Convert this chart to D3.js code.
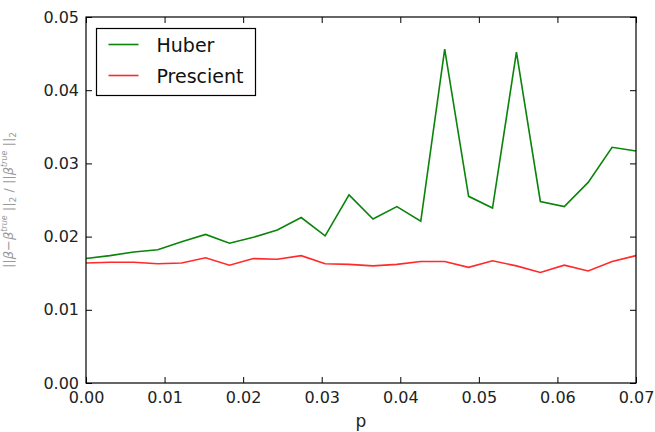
<!DOCTYPE html>
<html>
<head>
<meta charset="utf-8">
<script src="https://cdn.jsdelivr.net/npm/d3@7"></script>
<style>
  html, body { margin: 0; padding: 0; background: #fff; }
  svg { display: block; font-family: "DejaVu Sans", sans-serif; }
</style>
</head>
<body>
<svg id="chart" width="655" height="432"></svg>
<script>
// Contamination fraction p (24 evenly spaced values from 0 to 0.07)
const pValues = [0.0, 0.003043, 0.006087, 0.009130, 0.012174, 0.015217, 0.018261, 0.021304,
                 0.024348, 0.027391, 0.030435, 0.033478, 0.036522, 0.039565, 0.042609, 0.045652,
                 0.048696, 0.051739, 0.054783, 0.057826, 0.060870, 0.063913, 0.066957, 0.07];

// Relative estimation error of each estimator
const huberErr = [0.0170, 0.0174, 0.0179, 0.0182, 0.0193, 0.0203, 0.0191, 0.0199,
                  0.0209, 0.0226, 0.0201, 0.0257, 0.0224, 0.0241, 0.0221, 0.0456,
                  0.0255, 0.0239, 0.0452, 0.0248, 0.0241, 0.0274, 0.0322, 0.0317];
const prescientErr = [0.0164, 0.0165, 0.0165, 0.0163, 0.0164, 0.0171, 0.0161, 0.0170,
                      0.0169, 0.0174, 0.0163, 0.0162, 0.0160, 0.0162, 0.0166, 0.0166,
                      0.0158, 0.0167, 0.0160, 0.0151, 0.0161, 0.0153, 0.0166, 0.0174];

const seriesNames = ["Huber", "Prescient"];
const seriesColors = ["#0a840a", "#ff2a2a"];

const xTicks = [0.00, 0.01, 0.02, 0.03, 0.04, 0.05, 0.06, 0.07];
const yTicks = [0.00, 0.01, 0.02, 0.03, 0.04, 0.05];

const svg = d3.select("#chart");
const margin = { left: 86, top: 17, right: 19, bottom: 49 };
const W = 655, H = 432;
const iw = W - margin.left - margin.right;
const ih = H - margin.top - margin.bottom;

const x = d3.scaleLinear().domain([0, 0.07]).range([margin.left, margin.left + iw]);
const y = d3.scaleLinear().domain([0, 0.05]).range([margin.top + ih, margin.top]);

const tickLen = 6;
const fmt = d3.format(".2f");

// Axes with inward ticks on all four sides
const axBottom = svg.append("g").attr("transform", `translate(0,${margin.top + ih})`)
  .call(d3.axisBottom(x).tickValues(xTicks).tickFormat(fmt).tickSizeInner(-tickLen).tickSizeOuter(0).tickPadding(9));
const axTop = svg.append("g").attr("transform", `translate(0,${margin.top})`)
  .call(d3.axisTop(x).tickValues(xTicks).tickFormat("").tickSizeInner(-tickLen).tickSizeOuter(0));
const axLeft = svg.append("g").attr("transform", `translate(${margin.left},0)`)
  .call(d3.axisLeft(y).tickValues(yTicks).tickFormat(fmt).tickSizeInner(-tickLen).tickSizeOuter(0).tickPadding(7));
const axRight = svg.append("g").attr("transform", `translate(${margin.left + iw},0)`)
  .call(d3.axisRight(y).tickValues(yTicks).tickFormat("").tickSizeInner(-tickLen).tickSizeOuter(0));

[axBottom, axTop, axLeft, axRight].forEach(g => {
  g.select(".domain").remove();
  g.selectAll(".tick line").attr("stroke", "#000").attr("stroke-width", 1);
  g.selectAll(".tick text").attr("fill", "#222").attr("font-size", 16)
    .attr("font-family", "DejaVu Sans, sans-serif");
});

// Lines
const line = d3.line().x((d, i) => x(pValues[i])).y(d => y(d));
[huberErr, prescientErr].forEach((vals, k) => {
  svg.append("path").datum(vals)
    .attr("d", line)
    .attr("fill", "none")
    .attr("stroke", seriesColors[k])
    .attr("stroke-width", 1.6)
    .attr("stroke-linejoin", "miter");
});

// Plot frame
svg.append("rect")
  .attr("x", margin.left).attr("y", margin.top)
  .attr("width", iw).attr("height", ih)
  .attr("fill", "none").attr("stroke", "#000").attr("stroke-width", 1.2);

// Legend
const lg = svg.append("g").attr("transform", "translate(96.5,28.5)");
lg.append("rect").attr("width", 159).attr("height", 67)
  .attr("fill", "#fff").attr("stroke", "#000").attr("stroke-width", 1.2);
seriesNames.forEach((name, k) => {
  const cy = 16 + k * 31;
  lg.append("line").attr("x1", 12).attr("x2", 42).attr("y1", cy).attr("y2", cy)
    .attr("stroke", seriesColors[k]).attr("stroke-width", 1.6);
  lg.append("text").attr("x", 60).attr("y", cy + 7)
    .attr("font-size", 19).attr("fill", "#111").text(name);
});

// Axis titles
svg.append("text").attr("x", margin.left + iw / 2).attr("y", 427)
  .attr("text-anchor", "middle").attr("font-size", 17).attr("fill", "#222").text("p");

const yl = svg.append("text")
  .attr("transform", `translate(13,${margin.top + ih / 2}) rotate(-90)`)
  .attr("text-anchor", "middle").attr("font-size", 13).attr("fill", "#999")
  .attr("font-family", "DejaVu Sans, sans-serif");
yl.append("tspan").text("||");
yl.append("tspan").attr("font-style", "italic").text("β");
yl.append("tspan").text("−");
yl.append("tspan").attr("font-style", "italic").text("β");
yl.append("tspan").attr("font-size", 8).attr("dy", -6).attr("font-style", "italic").text("true");
yl.append("tspan").attr("dy", 6).text(" ||");
yl.append("tspan").attr("font-size", 9).attr("dy", 3).text("2");
yl.append("tspan").attr("dy", -3).text(" / ||");
yl.append("tspan").attr("font-style", "italic").text("β");
yl.append("tspan").attr("font-size", 8).attr("dy", -6).attr("font-style", "italic").text("true");
yl.append("tspan").attr("dy", 6).text(" ||");
yl.append("tspan").attr("font-size", 9).attr("dy", 3).text("2");
</script>
</body>
</html>
